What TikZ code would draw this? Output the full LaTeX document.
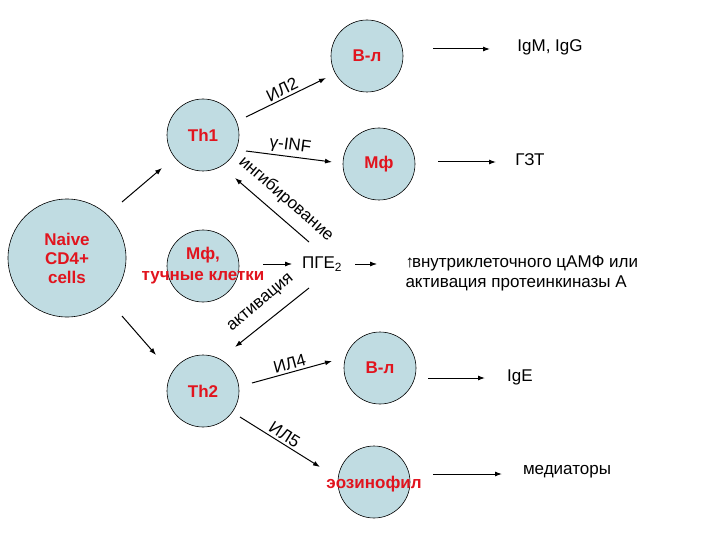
\documentclass[tikz,border=0pt]{standalone}
\usepackage{fontspec}
\setmainfont{Liberation Sans}
\usetikzlibrary{arrows.meta}
\definecolor{cellfill}{RGB}{192,220,226}
\definecolor{cellred}{RGB}{225,20,30}
\begin{document}
\begin{tikzpicture}[x=1pt,y=-1pt,
  cell/.style={circle,draw=black,line width=0.6pt,fill=cellfill,inner sep=0pt},
  rl/.style={text=cellred,font=\fontsize{17}{19}\selectfont\bfseries,align=center},
  lbl/.style={font=\fontsize{17}{20}\selectfont},
  arr/.style={-{Latex[length=7pt,width=5pt]},line width=1pt}]
\useasboundingbox (0,0) rectangle (720,540);
\node[cell,minimum size=118pt] (naive) at (67,258) {};
\node[rl] at (67,258) {Naive\\CD4+\\cells};
\node[cell,minimum size=72pt] (th1) at (203,135) {};
\node[rl] at (203,135) {Th1};
\node[cell,minimum size=72pt] (mf1) at (203,266) {};
\node[cell,minimum size=72pt] (th2) at (203,391) {};
\node[rl] at (203,391) {Th2};
\node[cell,minimum size=72pt] (b1) at (367,56) {};
\node[rl] at (367,56) {В-л};
\node[cell,minimum size=72pt] (mf) at (379,164) {};
\node[rl] at (379,164) {Мф};
\node[cell,minimum size=72pt] (b2) at (380,368) {};
\node[rl] at (380,368) {В-л};
\node[cell,minimum size=72pt] (eos) at (374,482) {};
\node[rl] at (374,484) {эозинофил};
\node[rl,font=\fontsize{17}{21}\selectfont\bfseries] (mfl) at (203,266) {Мф,\\тучные клетки};
\node[lbl] (pge) at (322,264) {ПГЕ\textsubscript{2}};
\node[lbl,align=left,anchor=west] (camp) at (402,273) {↑\kern-2pt внутриклеточного цАМФ или\\активация протеинкиназы А};
\node[lbl] (igm) at (550,47) {IgM, IgG};
\node[lbl] (gzt) at (530,160) {ГЗТ};
\node[lbl] (ige) at (520,377) {IgE};
\node[lbl] (med) at (567,472) {медиаторы};
% connectors
\coordinate (a1) at (122,202); \coordinate (a2) at (162,168);
\draw[arr] (a1) -- (a2);
\coordinate (a3) at (122,316); \coordinate (a4) at (156,355);
\draw[arr] (a3) -- (a4);
\coordinate (c1) at (246,117); \coordinate (c2) at (326,78);
\draw[arr] (c1) -- node[lbl,sloped,above=-1pt] {ИЛ2} (c2);
\coordinate (d1) at (246,151); \coordinate (d2) at (332,162);
\draw[arr] (d1) -- node[lbl,sloped,above=-1pt] {γ-INF} (d2);
\coordinate (e1) at (309,242); \coordinate (e2) at (235,178);
\draw[arr] (e1) -- (e2);
\node[lbl,rotate=-41] (inh) at (286,199) {ингибирование};
\coordinate (f1) at (309,288); \coordinate (f2) at (235,347);
\draw[arr] (f1) -- (f2);
\node[lbl,rotate=40] (act) at (261,303) {активация};
\coordinate (g1) at (263,264); \coordinate (g2) at (292,264);
\draw[arr,line width=0.8pt] (g1) -- (g2);
\coordinate (h1) at (355,264); \coordinate (h2) at (377,264);
\draw[arr,line width=0.8pt] (h1) -- (h2);
\coordinate (i1) at (252,383); \coordinate (i2) at (332,361);
\draw[arr] (i1) -- node[lbl,sloped,above=-1pt] {ИЛ4} (i2);
\coordinate (j1) at (240,417); \coordinate (j2) at (320,467);
\draw[arr] (j1) -- node[lbl,sloped,above=-1pt] {ИЛ5} (j2);
\coordinate (k1) at (433,49); \coordinate (k2) at (490,49);
\draw[arr] (k1) -- (k2);
\coordinate (l1) at (438,162); \coordinate (l2) at (496,162);
\draw[arr] (l1) -- (l2);
\coordinate (m1) at (428,378); \coordinate (m2) at (485,378);
\draw[arr] (m1) -- (m2);
\coordinate (n1) at (433,474); \coordinate (n2) at (502,474);
\draw[arr] (n1) -- (n2);
\end{tikzpicture}
\end{document}
